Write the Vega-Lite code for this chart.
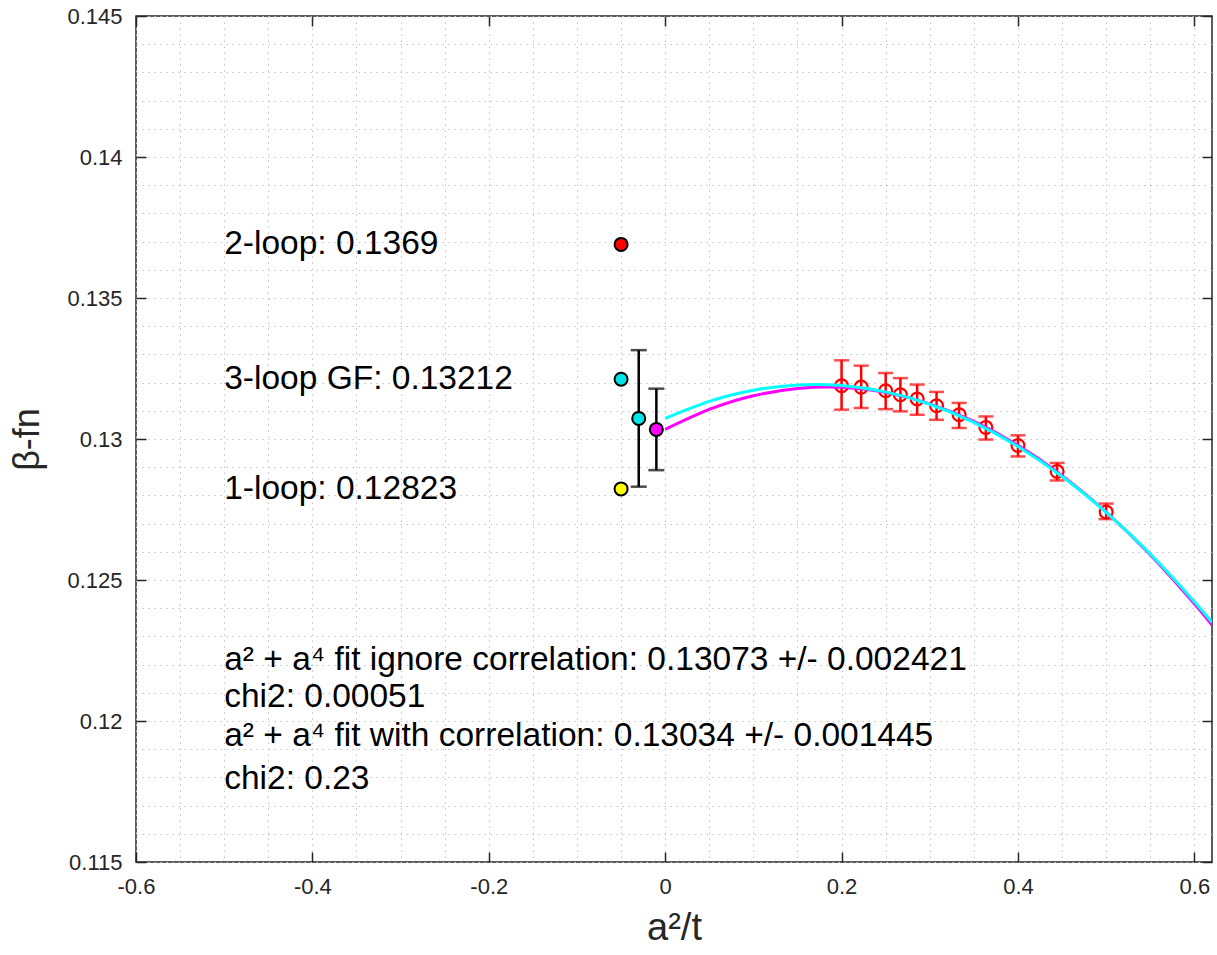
{
  "$schema": "https://vega.github.io/schema/vega-lite/v6.json",
  "autosize": "none",
  "width": 1076,
  "height": 846,
  "padding": {"left": 136, "top": 16, "right": 5, "bottom": 93},
  "background": "white",
  "config": {
    "font": "Liberation Sans",
    "view": {"stroke": "#262626", "strokeWidth": 1.5},
    "axis": {"labelColor": "#262626", "titleColor": "#262626", "titleFontWeight": "normal", "tickColor": "#262626", "labelFont": "Liberation Sans", "titleFont": "Liberation Sans"}
  },
  "datasets": {
    "red": [
      {"x": 0.2, "y": 0.13189, "lo": 0.13104, "hi": 0.13279},
      {"x": 0.2222, "y": 0.13184, "lo": 0.13110, "hi": 0.13260},
      {"x": 0.25, "y": 0.13171, "lo": 0.13106, "hi": 0.13234},
      {"x": 0.2667, "y": 0.13157, "lo": 0.13098, "hi": 0.13216},
      {"x": 0.2857, "y": 0.13142, "lo": 0.13086, "hi": 0.13193},
      {"x": 0.3077, "y": 0.13118, "lo": 0.13068, "hi": 0.13167},
      {"x": 0.3333, "y": 0.13086, "lo": 0.13039, "hi": 0.13128},
      {"x": 0.3636, "y": 0.13041, "lo": 0.12998, "hi": 0.13080},
      {"x": 0.4, "y": 0.12977, "lo": 0.12938, "hi": 0.13013},
      {"x": 0.4444, "y": 0.12885, "lo": 0.12853, "hi": 0.12915},
      {"x": 0.5, "y": 0.12741, "lo": 0.12716, "hi": 0.12771}
    ],
    "black": [
      {"x": -0.03, "lo": 0.128309, "hi": 0.133151},
      {"x": -0.01, "lo": 0.128895, "hi": 0.131785}
    ],
    "pts": [
      {"x": -0.05, "y": 0.1369, "name": "2-loop"},
      {"x": -0.05, "y": 0.13212, "name": "3-loop GF"},
      {"x": -0.05, "y": 0.12823, "name": "1-loop"},
      {"x": -0.03, "y": 0.13073, "name": "fit ignore correlation"},
      {"x": -0.01, "y": 0.13034, "name": "fit with correlation"}
    ],
    "cyan": [
      {"x": 0, "y": 0.13073}, {"x": 0.05, "y": 0.131335}, {"x": 0.1, "y": 0.131731},
      {"x": 0.15, "y": 0.131919}, {"x": 0.2, "y": 0.131899}, {"x": 0.25, "y": 0.13167},
      {"x": 0.3, "y": 0.131233}, {"x": 0.35, "y": 0.130587}, {"x": 0.4, "y": 0.129733},
      {"x": 0.45, "y": 0.128671}, {"x": 0.5, "y": 0.1274}, {"x": 0.55, "y": 0.125921},
      {"x": 0.6, "y": 0.124233}, {"x": 0.62, "y": 0.1235}
    ],
    "magenta": [
      {"x": 0, "y": 0.13034}, {"x": 0.05, "y": 0.131047}, {"x": 0.1, "y": 0.131532},
      {"x": 0.15, "y": 0.131794}, {"x": 0.2, "y": 0.131835}, {"x": 0.25, "y": 0.131653},
      {"x": 0.3, "y": 0.131248}, {"x": 0.35, "y": 0.130622}, {"x": 0.4, "y": 0.129773},
      {"x": 0.45, "y": 0.128702}, {"x": 0.5, "y": 0.127409}, {"x": 0.55, "y": 0.125894},
      {"x": 0.6, "y": 0.124156}, {"x": 0.62, "y": 0.123399}
    ],
    "labelsMid": [
      {"x": -0.5, "y": 0.1369, "text": "2-loop: 0.1369"},
      {"x": -0.5, "y": 0.13212, "text": "3-loop GF: 0.13212"},
      {"x": -0.5, "y": 0.12823, "text": "1-loop: 0.12823"}
    ],
    "labelsBase": [
      {"x": -0.5, "y": 0.1218, "text": "a²  + a⁴  fit ignore correlation: 0.13073 +/- 0.002421"},
      {"x": -0.5, "y": 0.1205, "text": "chi2: 0.00051"},
      {"x": -0.5, "y": 0.1191, "text": "a²  + a⁴  fit with correlation: 0.13034 +/- 0.001445"},
      {"x": -0.5, "y": 0.1176, "text": "chi2: 0.23"}
    ]
  },
  "resolve": {"axis": {"x": "independent", "y": "independent"}},
  "layer": [
    {
      "data": {"name": "red"},
      "mark": {"type": "rule", "color": "#ff0000", "strokeWidth": 2.5},
      "encoding": {
        "x": {"field": "x", "type": "quantitative", "scale": {"domain": [-0.6, 0.62], "nice": false, "zero": false},
          "axis": {"orient": "bottom", "values": [-0.6,-0.55,-0.5,-0.45,-0.4,-0.35,-0.3,-0.25,-0.2,-0.15,-0.1,-0.05,0,0.05,0.1,0.15,0.2,0.25,0.3,0.35,0.4,0.45,0.5,0.55,0.6],
            "labels": false, "ticks": false, "domain": false, "title": null, "grid": true, "gridColor": "#c4c4c4", "gridDash": [1.5, 4.5], "gridWidth": 1}},
        "y": {"field": "lo", "type": "quantitative", "scale": {"domain": [0.115, 0.145], "nice": false, "zero": false},
          "axis": {"orient": "left", "values": [0.115,0.116,0.117,0.118,0.119,0.12,0.121,0.122,0.123,0.124,0.125,0.126,0.127,0.128,0.129,0.13,0.131,0.132,0.133,0.134,0.135,0.136,0.137,0.138,0.139,0.14,0.141,0.142,0.143,0.144,0.145],
            "labels": false, "ticks": false, "domain": false, "title": null, "grid": true, "gridColor": "#c4c4c4", "gridDash": [1.5, 4.5], "gridWidth": 1}},
        "y2": {"field": "hi"}
      }
    },
    {
      "data": {"name": "red"},
      "mark": {"type": "tick", "orient": "horizontal", "color": "#ff0000", "size": 15, "thickness": 2.5},
      "encoding": {
        "x": {"field": "x", "type": "quantitative", "axis": null},
        "y": {"field": "lo", "type": "quantitative", "axis": null}
      }
    },
    {
      "data": {"name": "red"},
      "mark": {"type": "tick", "orient": "horizontal", "color": "#ff0000", "size": 15, "thickness": 2.5},
      "encoding": {
        "x": {"field": "x", "type": "quantitative", "axis": null},
        "y": {"field": "hi", "type": "quantitative", "axis": null}
      }
    },
    {
      "data": {"name": "red"},
      "mark": {"type": "point", "shape": "circle", "filled": false, "stroke": "#ff0000", "strokeWidth": 2.2, "size": 165, "opacity": 1},
      "encoding": {
        "x": {"field": "x", "type": "quantitative", "axis": null},
        "y": {"field": "y", "type": "quantitative", "axis": null}
      }
    },
    {
      "data": {"name": "black"},
      "mark": {"type": "rule", "color": "#000000", "strokeWidth": 2.5},
      "encoding": {
        "x": {"field": "x", "type": "quantitative", "axis": null},
        "y": {"field": "lo", "type": "quantitative", "axis": null},
        "y2": {"field": "hi"}
      }
    },
    {
      "data": {"name": "black"},
      "mark": {"type": "tick", "orient": "horizontal", "color": "#000000", "size": 16, "thickness": 2.5},
      "encoding": {
        "x": {"field": "x", "type": "quantitative", "axis": null},
        "y": {"field": "lo", "type": "quantitative", "axis": null}
      }
    },
    {
      "data": {"name": "black"},
      "mark": {"type": "tick", "orient": "horizontal", "color": "#000000", "size": 16, "thickness": 2.5},
      "encoding": {
        "x": {"field": "x", "type": "quantitative", "axis": null},
        "y": {"field": "hi", "type": "quantitative", "axis": null}
      }
    },
    {
      "data": {"name": "pts"},
      "mark": {"type": "point", "shape": "circle", "filled": true, "stroke": "#000000", "strokeWidth": 2, "size": 170, "opacity": 1},
      "encoding": {
        "x": {"field": "x", "type": "quantitative", "axis": null},
        "y": {"field": "y", "type": "quantitative", "axis": null},
        "fill": {"field": "name", "type": "nominal", "legend": null,
          "scale": {"domain": ["2-loop", "3-loop GF", "1-loop", "fit ignore correlation", "fit with correlation"],
            "range": ["#ff0000", "#00e5e5", "#ffff00", "#00e5e5", "#ff00ff"]}}
      }
    },
    {
      "data": {"name": "magenta"},
      "mark": {"type": "line", "color": "#ff00ff", "strokeWidth": 3, "interpolate": "natural", "clip": true},
      "encoding": {
        "x": {"field": "x", "type": "quantitative",
          "axis": {"orient": "top", "values": [-0.6,-0.4,-0.2,0,0.2,0.4,0.6], "labels": false, "domain": false, "grid": false, "title": null, "tickSize": -10, "tickWidth": 1.5}},
        "y": {"field": "y", "type": "quantitative",
          "axis": {"orient": "right", "values": [0.115,0.12,0.125,0.13,0.135,0.14,0.145], "labels": false, "domain": false, "grid": false, "title": null, "tickSize": -10, "tickWidth": 1.5}}
      }
    },
    {
      "data": {"name": "cyan"},
      "mark": {"type": "line", "color": "#00ffff", "strokeWidth": 3, "interpolate": "natural", "clip": true},
      "encoding": {
        "x": {"field": "x", "type": "quantitative",
          "axis": {"orient": "bottom", "values": [-0.6,-0.4,-0.2,0,0.2,0.4,0.6], "domain": false, "grid": false, "tickSize": -10, "tickWidth": 1.5,
            "labelExpr": "datum.value == 0 ? '0' : (datum.value < 0 ? '-' + format(-datum.value, '.1f') : format(datum.value, '.1f'))",
            "labelFontSize": 22, "labelPadding": 24, "labelFlush": false,
            "title": "a²/t", "titleFontSize": 38, "titlePadding": 12}},
        "y": {"field": "y", "type": "quantitative",
          "axis": {"orient": "left", "values": [0.115,0.12,0.125,0.13,0.135,0.14,0.145], "domain": false, "grid": false, "tickSize": -10, "tickWidth": 1.5,
            "format": ".3~f", "labelFontSize": 22, "labelPadding": 24, "labelFlush": false,
            "title": "β-fn", "titleFontSize": 36, "titlePadding": 20}}
      }
    },
    {
      "data": {"name": "labelsMid"},
      "mark": {"type": "text", "align": "left", "baseline": "middle", "fontSize": 33.5, "color": "#000000"},
      "encoding": {
        "x": {"field": "x", "type": "quantitative", "axis": null},
        "y": {"field": "y", "type": "quantitative", "axis": null},
        "text": {"field": "text", "type": "nominal"}
      }
    },
    {
      "data": {"name": "labelsBase"},
      "mark": {"type": "text", "align": "left", "baseline": "alphabetic", "fontSize": 33.5, "color": "#000000"},
      "encoding": {
        "x": {"field": "x", "type": "quantitative", "axis": null},
        "y": {"field": "y", "type": "quantitative", "axis": null},
        "text": {"field": "text", "type": "nominal"}
      }
    }
  ]
}
